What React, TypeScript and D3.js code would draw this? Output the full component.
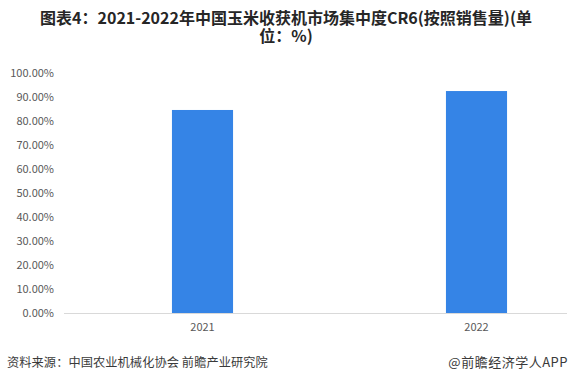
import React from "react";
import * as d3 from "d3";

const categories = ["2021", "2022"];
const values = [84.7, 92.6];
const yTicks = [0, 10, 20, 30, 40, 50, 60, 70, 80, 90, 100];
const titleLines = ["图表4：2021-2022年中国玉米收获机市场集中度CR6(按照销售量)(单", "位：%)"];
const sourceText = "资料来源：中国农业机械化协会 前瞻产业研究院";
const brandText = "@前瞻经济学人APP";

export default function App() {
  const W = 572, H = 384;
  const y = d3.scaleLinear().domain([0, 100]).range([313, 73.3]);
  const x = d3.scaleBand<string>().domain(categories).range([65.5, 613.5]).paddingInner(0.777).paddingOuter(0.3885);
  const font = "'Microsoft YaHei', 'Noto Sans CJK SC', sans-serif";
  return (
    <svg width={W} height={H} style={{ position: "absolute", left: 0, top: 0, background: "#fff" }} fontFamily={font}>
      <rect width={W} height={H} fill="#fff" />
      {titleLines.map((t, i) => (
        <text key={i} x={286} y={24 + i * 18} textAnchor="middle" fontSize={16} fontWeight="bold" fill="#262626">{t}</text>
      ))}
      {yTicks.map((t) => (
        <text key={t} x={54} y={y(t)} dy="0.35em" textAnchor="end" fontSize={11} fill="#595959">{d3.format(".2f")(t)}%</text>
      ))}
      {categories.map((c, i) => (
        <rect key={c} x={x(c)} y={y(values[i])} width={x.bandwidth()} height={y(0) - y(values[i])} fill="#3584E6" />
      ))}
      <line x1={64} x2={567} y1={y(0) + 0.5} y2={y(0) + 0.5} stroke="#d9d9d9" strokeWidth={1} />
      {categories.map((c) => (
        <text key={c} x={(x(c) as number) + x.bandwidth() / 2} y={331} textAnchor="middle" fontSize={11} fill="#595959">{c}</text>
      ))}
      <text x={7} y={367} fontSize={12.2} letterSpacing={0.1} fill="#3a3a3a">{sourceText}</text>
      <text x={568} y={367} textAnchor="end" fontSize={13} letterSpacing={0.5} fill="#3a3a3a">{brandText}</text>
    </svg>
  );
}
